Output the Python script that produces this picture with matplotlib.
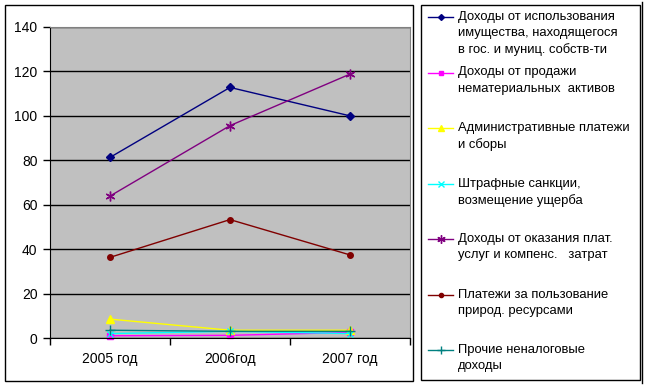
import matplotlib.pyplot as plt
from matplotlib.lines import Line2D
from matplotlib.patches import Rectangle

plt.rcParams['font.family'] = ['Liberation Sans', 'DejaVu Sans']

goda = ['2005 год', '2006год', '2007 год']

imushchestvo = [81.3, 112.8, 100.0]
nematerialnye = [1.0, 1.2, 2.5]
admin_platezhi = [8.5, 3.5, 3.5]
shtrafy = [2.0, 3.0, 2.0]
platnye_uslugi = [63.9, 95.6, 118.8]
prirod_resursy = [36.3, 53.3, 37.4]
prochie = [3.5, 3.0, 3.0]

nazvaniya = [
    'Доходы от использования\nимущества, находящегося\nв гос. и муниц. собств-ти',
    'Доходы от продажи\nнематериальных  активов',
    'Административные платежи\nи сборы',
    'Штрафные санкции,\nвозмещение ущерба',
    'Доходы от оказания плат.\nуслуг и компенс.   затрат',
    'Платежи за пользование\nприрод. ресурсами',
    'Прочие неналоговые\nдоходы',
]
ryady = [imushchestvo, nematerialnye, admin_platezhi, shtrafy,
         platnye_uslugi, prirod_resursy, prochie]
cveta = ['#000080', '#FF00FF', '#FFFF00', '#00FFFF', '#800080', '#800000', '#008080']
markery = ['D', 's', '^', 'x', (6, 2, 0), 'o', '+']
razmery = [4, 4, 6, 5, 7, 4, 7]

W, H = 648, 387
fig = plt.figure(figsize=(W / 100, H / 100), dpi=100)


def fx(x):
    return x / W


def fy(y):
    return 1 - y / H


ax = fig.add_axes([fx(50), fy(338), (410 - 50) / W, (338 - 27) / H])
ax.set_facecolor('#C0C0C0')

x = [i + 0.5 for i in range(len(goda))]
for ryad, cvet, m, s in zip(ryady, cveta, markery, razmery):
    ax.plot(x, ryad, color=cvet, marker=m, markersize=s, linewidth=1,
            markeredgewidth=1, clip_on=False)

ax.set_xlim(0, 3)
ax.set_ylim(0, 140)
ax.set_yticks(range(0, 141, 20))
ax.set_xticks([0, 1, 2, 3])
ax.set_xticklabels([])
ax.set_xticks(x, minor=True)
ax.set_xticklabels(goda, minor=True)
ax.tick_params(axis='x', which='minor', length=0, pad=10, labelsize=10)
ax.tick_params(axis='x', which='major', direction='out', length=5, width=1)
ax.tick_params(axis='y', direction='out', length=5, width=1, labelsize=10, pad=4)
ax.yaxis.grid(True, color='black', linewidth=1)
ax.set_axisbelow(True)
for side in ['top', 'right']:
    ax.spines[side].set_color('#808080')
for side in ['left', 'bottom']:
    ax.spines[side].set_color('black')

# рамки диаграммы и легенды
fig.patches.append(Rectangle((fx(5), fy(381)), (413 - 5) / W, (381 - 5) / H,
                             transform=fig.transFigure, fill=False,
                             edgecolor='black', linewidth=1))
fig.patches.append(Rectangle((fx(421), fy(380)), (640 - 421) / W, (380 - 5) / H,
                             transform=fig.transFigure, fill=False,
                             edgecolor='black', linewidth=1))
fig.lines.append(Line2D([fx(642), fx(642)], [fy(2), fy(383)],
                        transform=fig.transFigure, color='black', linewidth=1))

# легенда
y0 = 17
shag = 55.5
for i, (nazv, cvet, m, s) in enumerate(zip(nazvaniya, cveta, markery, razmery)):
    yy = y0 + i * shag
    fig.lines.append(Line2D([fx(428), fx(440.5), fx(453)], [fy(yy)] * 3,
                            transform=fig.transFigure, color=cvet, linewidth=1,
                            marker=m, markersize=s - 1, markevery=[1],
                            markeredgewidth=1))
    fig.text(fx(458), fy(yy - 6), nazv, fontsize=9.4, va='top', ha='left',
             linespacing=1.45)

fig.savefig('out.png', dpi=100)
